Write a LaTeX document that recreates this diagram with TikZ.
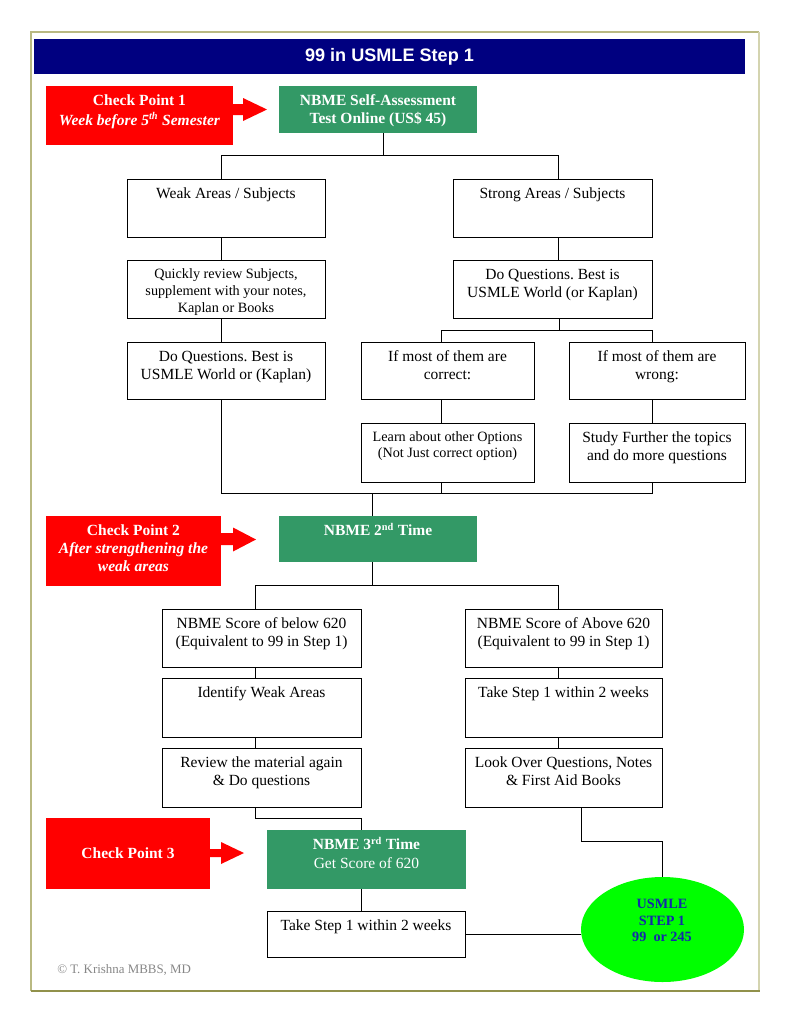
\documentclass[tikz,border=0pt]{standalone}
\usepackage{fontspec}
\setmainfont{Liberation Serif}
\newfontfamily\arialf{Liberation Sans}
\usetikzlibrary{shapes.geometric}
\frenchspacing
\definecolor{navyb}{RGB}{0,0,128}
\definecolor{seag}{RGB}{51,153,102}
\definecolor{limeg}{RGB}{0,255,0}
\definecolor{frlight}{RGB}{212,212,176}
\definecolor{frmid}{RGB}{185,185,130}
\definecolor{frdark}{RGB}{145,145,75}
\definecolor{ellblue}{RGB}{20,40,170}
\definecolor{copyg}{RGB}{135,135,135}
\newcommand\mkbox[8]{%
  \node[#2, minimum width={(#5-#3)*0.774pt}, minimum height={(#6-#4)*0.774pt}] (#1) at ({(#3+#5)/2},{(#4+#6)/2}) {};
  \node[#7] (#1t) at (#1.north) {\strut #8};}
\begin{document}
\begin{tikzpicture}[x=0.774pt,y=-0.774pt,
  wbox/.style={draw=black, line width=0.75pt, fill=white, inner sep=0pt, outer sep=0pt},
  rbox/.style={fill=red, inner sep=0pt, outer sep=0pt},
  gbox/.style={fill=seag, inner sep=0pt, outer sep=0pt},
  txt/.style={anchor=north, inner sep=0pt, align=center, yshift=-5.3pt, font=\fontsize{12}{14}\selectfont},
  stxt/.style={txt, font=\fontsize{11}{13}\selectfont},
  sstxt/.style={txt, font=\fontsize{11}{12.5}\selectfont},
  wtxt/.style={txt, text=white, font=\fontsize{12}{14}\selectfont\bfseries},
  link/.style={draw=black, line width=0.75pt}
]
\useasboundingbox (0,0) rectangle (791,1023);
\fill[white] (0,0) rectangle (791,1023);
% frame
\draw[frmid, line width=1.6pt] (31,991) -- (31,32) -- (759,32);
\draw[frlight, line width=2.2pt] (759,32) -- (759,991);
\draw[frdark, line width=1.6pt] (31,991) -- (760,991);
% title
\node[fill=navyb, inner sep=0pt, minimum width={711*0.774pt}, minimum height={35*0.774pt}, text=white, font=\arialf\bfseries\fontsize{14}{16}\selectfont] (title) at (389.5,56.5) {99 in USMLE Step 1};

% check points and green boxes
\mkbox{cp1}{rbox}{46}{86}{233}{145}{wtxt}{Check Point 1\\\textit{Week before 5\textsuperscript{th} Semester}}
\fill[red] (233,104) -- (243,104) -- (243,98) -- (267,109.5) -- (243,121) -- (243,115) -- (233,115) -- cycle;
\mkbox{g1}{gbox}{279}{86}{477}{133}{wtxt}{NBME Self-Assessment\\Test Online (US\$ 45)}

\mkbox{weak}{wbox}{127}{179}{325}{237}{txt}{Weak Areas / Subjects}
\mkbox{strong}{wbox}{453}{179}{652}{237}{txt}{Strong Areas / Subjects}
\mkbox{quick}{wbox}{127}{260}{325}{318}{stxt}{Quickly review Subjects,\\supplement with your notes,\\Kaplan or Books}
\mkbox{doql}{wbox}{127}{342}{325}{399}{txt}{Do Questions. Best is\\USMLE World or (Kaplan)}
\mkbox{doqr}{wbox}{453}{260}{652}{318}{txt}{Do Questions. Best is\\USMLE World (or Kaplan)}
\mkbox{corr}{wbox}{361}{342}{534}{399}{txt}{If most of them are\\correct:}
\mkbox{wrong}{wbox}{569}{342}{745}{399}{txt}{If most of them are\\wrong:}
\mkbox{learn}{wbox}{361}{423}{534}{482}{sstxt}{Learn about other Options\\(Not Just correct option)}
\mkbox{study}{wbox}{569}{423}{745}{482}{txt}{Study Further the topics\\and do more questions}

\mkbox{cp2}{rbox}{46}{516}{221}{586}{wtxt}{Check Point 2\\\textit{After strengthening the}\\\textit{weak areas}}
\fill[red] (221,533) -- (233,533) -- (233,527.5) -- (256,539.5) -- (233,551.5) -- (233,545) -- (221,545) -- cycle;
\mkbox{g2}{gbox}{279}{516}{477}{562}{wtxt}{NBME 2\textsuperscript{nd} Time}

\mkbox{below}{wbox}{162}{609}{361}{667}{txt}{NBME Score of below 620\\(Equivalent to 99 in Step 1)}
\mkbox{above}{wbox}{465}{609}{662}{667}{txt}{NBME Score of Above 620\\(Equivalent to 99 in Step 1)}
\mkbox{ident}{wbox}{162}{678}{361}{737}{txt}{Identify Weak Areas}
\mkbox{take1}{wbox}{465}{678}{662}{737}{txt}{Take Step 1 within 2 weeks}
\mkbox{review}{wbox}{162}{748}{361}{807}{txt}{Review the material again\\\& Do questions}
\mkbox{look}{wbox}{465}{748}{662}{807}{txt}{Look Over Questions, Notes\\\& First Aid Books}

\node[rbox, minimum width={164*0.774pt}, minimum height={71*0.774pt}, text=white, font=\fontsize{12}{14}\selectfont\bfseries] (cp3) at (128,853.5) {Check Point 3};
\fill[red] (210,849) -- (221,849) -- (221,842) -- (244,853) -- (221,864) -- (221,857) -- (210,857) -- cycle;
\mkbox{g3}{gbox}{267}{830}{466}{889}{wtxt}{NBME 3\textsuperscript{rd} Time\\{\mdseries Get Score of 620}}
\mkbox{take2}{wbox}{267}{911}{465}{957}{txt}{Take Step 1 within 2 weeks}

\node[ellipse, fill=limeg, inner sep=0pt, outer sep=0pt, minimum width={163*0.774pt}, minimum height={105*0.774pt}] (usmle) at (662.5,929.5) {};
\node[inner sep=0pt, align=center, text=ellblue, font=\fontsize{11}{12.5}\selectfont\bfseries] (usmlet) at (662,920.5) {USMLE\\STEP 1\\99\ \ or 245};

\node[anchor=west, inner sep=0pt, text=copyg, font=\fontsize{10}{12}\selectfont] (copy) at (57,970) {© T. Krishna MBBS, MD};

% connectors
\coordinate (j1) at (383,155);
\coordinate (j1l) at (221,155);
\coordinate (j1r) at (558,155);
\draw[link] (g1.south -| j1) -- (j1);
\draw[link] (weak.north -| j1l) -- (j1l) -- (j1r) -- (strong.north -| j1r);
\draw[link] (weak.south -| j1l) -- (quick.north -| j1l);
\draw[link] (quick.south -| j1l) -- (doql.north -| j1l);
\draw[link] (strong.south -| j1r) -- (doqr.north -| j1r);

\coordinate (j2) at (559,330);
\coordinate (j2l) at (441,330);
\coordinate (j2r) at (652,330);
\draw[link] (doqr.south -| j2) -- (j2);
\draw[link] (corr.north -| j2l) -- (j2l) -- (j2r) -- (wrong.north -| j2r);
\draw[link] (corr.south -| j2l) -- (learn.north -| j2l);
\draw[link] (wrong.south -| j2r) -- (study.north -| j2r);

\coordinate (j3) at (372,493);
\coordinate (j3l) at (221,493);
\coordinate (j3r) at (652,493);
\draw[link] (doql.south -| j3l) -- (j3l) -- (j3r) -- (study.south -| j3r);
\draw[link] (learn.south -| j2l) -- (j3 -| j2l);
\draw[link] (j3) -- (g2.north -| j3);

\coordinate (j4) at (372,585);
\coordinate (j4l) at (255,585);
\coordinate (j4r) at (558,585);
\draw[link] (g2.south -| j4) -- (j4);
\draw[link] (below.north -| j4l) -- (j4l) -- (j4r) -- (above.north -| j4r);
\draw[link] (below.south -| j4l) -- (ident.north -| j4l);
\draw[link] (ident.south -| j4l) -- (review.north -| j4l);
\draw[link] (above.south -| j4r) -- (take1.north -| j4r);
\draw[link] (take1.south -| j4r) -- (look.north -| j4r);

\coordinate (j5l) at (255,818);
\coordinate (j5r) at (361,818);
\draw[link] (review.south -| j5l) -- (j5l) -- (j5r) -- (g3.north -| j5r);
\draw[link] (g3.south -| j5r) -- (take2.north -| j5r);
\draw[link] (take2.east) -- (usmle.west |- take2.east);

\coordinate (j6) at (581,841);
\coordinate (j6r) at (662.5,841);
\draw[link] (look.south -| j6) -- (j6) -- (j6r) -- (usmle.north);
\end{tikzpicture}
\end{document}
